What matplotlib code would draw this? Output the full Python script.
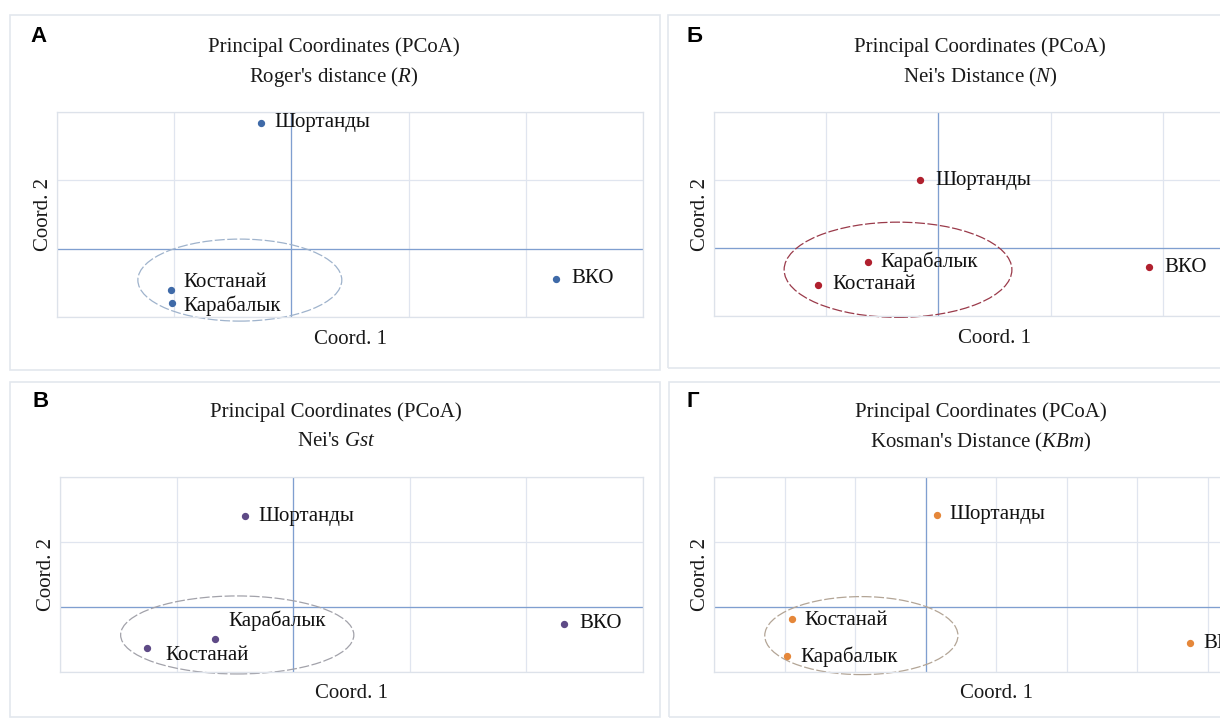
import numpy as np
import matplotlib
matplotlib.use('Agg')
import matplotlib.pyplot as plt
from matplotlib.patches import Ellipse, Rectangle

### Data ###

# Population names (same order in every panel)
names = ['Шортанды', 'Костанай', 'Карабалык', 'ВКО']

# PCoA coordinates
rogers_x = [-0.026, -0.103, -0.102, 0.226]
rogers_y = [0.092, -0.030, -0.040, -0.022]

nei_x = [-0.016, -0.107, -0.063, 0.188]
nei_y = [0.050, -0.027, -0.010, -0.014]

gst_x = [-0.041, -0.125, -0.067, 0.232]
gst_y = [0.070, -0.0315, -0.0246, -0.013]

kosman_x = [0.016, -0.190, -0.197, 0.375]
kosman_y = [0.071, -0.009, -0.038, -0.028]

# Cluster ellipses: centre x, centre y, width, height
rogers_ell = [-0.044, -0.023, 0.174, 0.060]
nei_ell = [-0.036, -0.016, 0.203, 0.070]
gst_ell = [-0.048, -0.0215, 0.200, 0.060]
kosman_ell = [-0.091, -0.022, 0.274, 0.060]

titles = ["Roger's distance ($R$)", "Nei's Distance ($N$)", "Nei's $Gst$", "Kosman's Distance ($KBm$)"]
letters = ['A', 'Б', 'В', 'Г']

###############################################################################

plt.rcParams['font.family'] = ['Liberation Serif', 'DejaVu Serif']
plt.rcParams['mathtext.fontset'] = 'custom'
plt.rcParams['mathtext.rm'] = 'Liberation Serif'
plt.rcParams['mathtext.it'] = 'Liberation Serif:italic'

W, H = 1220, 719
fig = plt.figure(figsize=(W / 100, H / 100), dpi=100)
fig.patch.set_facecolor('white')

def fx(px):
    return px / W

def fy(py):
    return 1 - py / H

# Panel frames (pixels)
for x0, y0, x1, y1 in [(10, 15, 660, 370), (668, 15, 1240, 368),
                       (10, 382, 660, 717), (669, 382, 1240, 717)]:
    fig.add_artist(Rectangle((fx(x0), fy(y1)), fx(x1 - x0), (y1 - y0) / H,
                             transform=fig.transFigure, fill=False,
                             edgecolor='#e3e7ee', lw=1.2))

# Panel settings: plot box in pixels, limits, colours, label offsets
panels = [
    dict(box=(57, 112, 643, 317), xlim=(-0.2, 0.3), ylim=(-0.05, 0.10),
         x=rogers_x, y=rogers_y, ell=rogers_ell, color='#3f6aa8', ecol='#9fb3cc',
         off=[(13, 0), (13, 7), (12, -2), (15, 0)], title_x=334, title_y=47),
    dict(box=(714, 112, 1275, 316), xlim=(-0.2, 0.3), ylim=(-0.05, 0.10),
         x=nei_x, y=nei_y, ell=nei_ell, color='#b0202e', ecol='#9a3a4a',
         off=[(15, 0), (14, 0), (13, 0), (15, 0)], title_x=980, title_y=47),
    dict(box=(60, 477, 643, 672), xlim=(-0.2, 0.3), ylim=(-0.05, 0.10),
         x=gst_x, y=gst_y, ell=gst_ell, color='#5e4a86', ecol='#a2a2aa',
         off=[(13, 0), (18, -8), (13, 18), (16, 0)], title_x=336, title_y=412),
    dict(box=(714, 477, 1278, 672), xlim=(-0.3, 0.5), ylim=(-0.05, 0.10),
         x=kosman_x, y=kosman_y, ell=kosman_ell, color='#e5873a', ecol='#b3a596',
         off=[(13, 0), (13, -2), (14, 0), (14, 0)], title_x=981, title_y=412),
]

for p, title, letter in zip(panels, titles, letters):
    x0, y0, x1, y1 = p['box']
    ax = fig.add_axes([fx(x0), fy(y1), fx(x1 - x0), (y1 - y0) / H])
    ax.set_xlim(p['xlim'])
    ax.set_ylim(p['ylim'])
    ax.set_xticks(np.round(np.arange(p['xlim'][0], p['xlim'][1] + 1e-9, 0.1), 6))
    ax.set_yticks(np.round(np.arange(p['ylim'][0], p['ylim'][1] + 1e-9, 0.05), 6))
    ax.tick_params(length=0, labelbottom=False, labelleft=False)
    ax.grid(True, color='#e0e5ef', lw=0.9, zorder=0)
    ax.set_axisbelow(True)
    for s in ax.spines.values():
        s.set_color('#dde2ea')
        s.set_linewidth(0.9)
    ax.axhline(0, color='#7f9fd0', lw=0.9, zorder=1.5)
    ax.axvline(0, color='#7f9fd0', lw=0.9, zorder=1.5)

    # Cluster ellipse
    cx, cy, ew, eh = p['ell']
    ax.add_patch(Ellipse((cx, cy), ew, eh, fill=False, edgecolor=p['ecol'],
                         lw=0.9, ls=(0, (8, 2)), clip_on=False, zorder=2))

    # Points and labels
    ax.scatter(p['x'], p['y'], s=18, color=p['color'], zorder=3, clip_on=False)
    for name, xv, yv, off in zip(names, p['x'], p['y'], p['off']):
        ax.annotate(name, (xv, yv), xytext=off, textcoords='offset pixels',
                    ha='left', va='center', fontsize=15, color='#111111',
                    annotation_clip=False)

    ax.set_xlabel('Coord. 1', fontsize=15, labelpad=9, color='#1a1a1a')
    ax.set_ylabel('Coord. 2', fontsize=15, labelpad=3, color='#1a1a1a')

    # Titles and panel letters
    fig.text(fx(p['title_x']), fy(p['title_y']), 'Principal Coordinates (PCoA)',
             ha='center', va='center', fontsize=15, color='#1a1a1a')
    fig.text(fx(p['title_x']), fy(p['title_y'] + 30), title,
             ha='center', va='center', fontsize=15, color='#1a1a1a')
    fig.text(fx(x0 - 27), fy(p['title_y'] - 10), letter, ha='left', va='center',
             fontsize=16, fontweight='bold', family=['Liberation Sans', 'DejaVu Sans'])

fig.savefig('out.png', dpi=100)
